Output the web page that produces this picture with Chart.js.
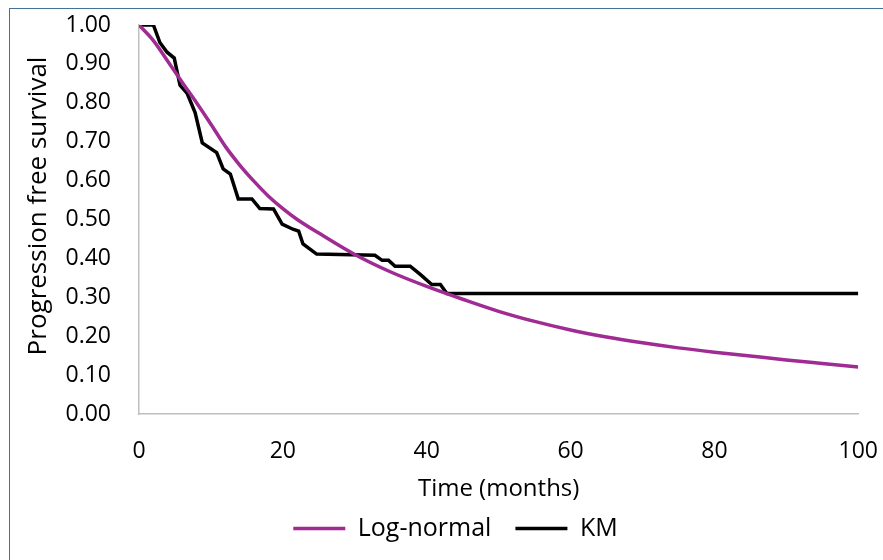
<!DOCTYPE html>
<html>
<head>
<meta charset="utf-8">
<script src="https://cdn.jsdelivr.net/npm/chart.js@4"></script>
<style>
  body { margin: 0; background: #fff; overflow: hidden; }
  #frame { position: absolute; left: 9px; top: 8px; width: 910px; height: 600px; border: 1.5px solid #41719C; }
  #box { position: absolute; left: 13px; top: 9px; width: 889px; height: 551px; }
</style>
</head>
<body>
<div id="frame"></div>
<div id="box"><canvas id="chart"></canvas></div>
<script>
// log-normal fit (months, survival)
const lnTime = [0, 2, 4, 6, 8, 10, 12, 14, 16, 18, 20, 22, 25, 30, 35, 40, 45, 50, 55, 60, 65, 70, 75, 80, 85, 90, 95, 100];
const lnSurv = [1.00, 0.96, 0.907, 0.853, 0.80, 0.745, 0.688, 0.64, 0.598, 0.56, 0.528, 0.50, 0.465, 0.41, 0.365, 0.328, 0.295, 0.264, 0.238, 0.216, 0.198, 0.183, 0.17, 0.159, 0.149, 0.139, 0.13, 0.121];

// Kaplan-Meier estimate
const kmTime = [0, 2.0, 2.9, 3.9, 4.9, 5.7, 6.7, 7.8, 8.8, 10.8, 11.7, 12.7, 13.8, 15.7, 16.8, 18.7, 19.9, 21.4, 22.2, 22.8, 24.7, 32.8, 33.8, 34.7, 35.6, 37.7, 39.1, 40.7, 41.9, 42.8, 100];
const kmSurv = [1.00, 1.00, 0.955, 0.93, 0.915, 0.845, 0.824, 0.775, 0.697, 0.672, 0.63, 0.617, 0.553, 0.553, 0.528, 0.527, 0.488, 0.475, 0.47, 0.437, 0.411, 0.408, 0.395, 0.395, 0.38, 0.38, 0.359, 0.333, 0.333, 0.31, 0.31];

const xTicks = [0, 20, 40, 60, 80, 100];

const family = '"Open Sans", sans-serif';
const tickFont = { family, size: 23 };
const toPts = (xs, ys) => xs.map((x, i) => ({ x, y: ys[i] }));

new Chart(document.getElementById('chart'), {
  type: 'scatter',
  data: {
    datasets: [
      { label: 'Log-normal', data: toPts(lnTime, lnSurv), showLine: true, borderColor: '#A02B93', backgroundColor: '#A02B93',
        borderWidth: 3.5, pointRadius: 0, cubicInterpolationMode: 'monotone' },
      { label: 'KM', data: toPts(kmTime, kmSurv), showLine: true, borderColor: '#000000', backgroundColor: '#000000',
        borderWidth: 3.5, pointRadius: 0 }
    ]
  },
  options: {
    responsive: true,
    maintainAspectRatio: false,
    animation: false,
    layout: { padding: { top: 16, right: 4, left: 0, bottom: 9 } },
    plugins: {
      tooltip: { enabled: false },
      legend: {
        position: 'bottom',
        labels: { usePointStyle: true, pointStyle: 'line', pointStyleWidth: 52, color: '#000', font: { family, size: 25 }, padding: 24 }
      }
    },
    scales: {
      x: {
        type: 'linear', min: 0, max: 100,
        afterBuildTicks: s => { s.ticks = xTicks.map(v => ({ value: v })); },
        afterFit: s => { s.height = 78; },
        grid: { display: false, drawTicks: false },
        border: { color: '#BFBFBF', width: 1.5 },
        ticks: { color: '#000', font: tickFont, padding: 24 },
        title: { display: true, text: 'Time (months)', color: '#000', font: { family, size: 24 }, padding: { top: 0, bottom: -12 } }
      },
      y: {
        min: 0, max: 1,
        afterFit: s => { s.width = 126; },
        grid: { display: true, drawOnChartArea: false, drawTicks: true, tickLength: 28, tickColor: 'rgba(0,0,0,0)' },
        border: { color: '#BFBFBF', width: 1.5 },
        ticks: { stepSize: 0.1, color: '#000', font: tickFont, padding: 0, callback: v => v.toFixed(2) },
        title: { display: true, text: '    Progression free survival', color: '#000', font: { family, size: 26 }, padding: { top: 10, bottom: 0 } }
      }
    }
  }
});
</script>
</body>
</html>
